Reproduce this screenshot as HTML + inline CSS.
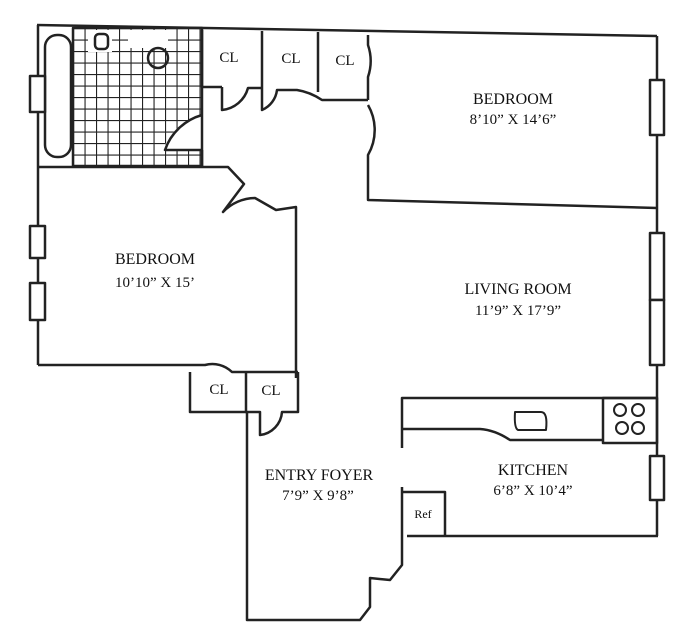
<!DOCTYPE html>
<html><head><style>
html,body{margin:0;padding:0;background:#fff;}
svg{display:block;}
text{font-family:"Liberation Serif",serif;fill:#111;text-anchor:middle;font-size:16px;}
.s{font-size:15px;}
</style></head><body>
<svg width="690" height="637" viewBox="0 0 690 637" xmlns="http://www.w3.org/2000/svg">
<defs>
<pattern id="tile" x="73" y="28" width="11.5" height="11.5" patternUnits="userSpaceOnUse">
<path d="M0 0H11.5M0 0V11.5" stroke="#222" stroke-width="2.2" fill="none"/>
</pattern>
</defs>
<g fill="none" stroke="#222" stroke-width="2.5" stroke-linejoin="round">
<rect x="73" y="28" width="129" height="138" fill="url(#tile)" stroke="none"/>
<rect x="88" y="30" width="24" height="22" fill="#fff" stroke="none"/>
<rect x="128" y="30" width="40" height="18" fill="#fff" stroke="none"/>
<path d="M202 115 A55 55 0 0 0 163 150 L202 150 Z" fill="#fff" stroke="none"/>
<path d="M37 25 L657 36"/>
<path d="M38 25 V365"/>
<path d="M657 36 V536"/>
<rect x="45" y="35" width="26" height="122" rx="12"/>
<rect x="73" y="28" width="129" height="138"/>
<rect x="95" y="34" width="13" height="15" rx="4"/>
<circle cx="158" cy="58" r="10"/>
<path d="M38 167 H202"/>
<path d="M202 115 A55 55 0 0 0 165 150 L202 150"/>
<path d="M202 150 V167"/>
<path d="M202 30 V87 H222"/>
<path d="M222 87 V110 A30 30 0 0 0 248 88 H262"/>
<path d="M262 31 V88 V110 A25 25 0 0 0 277 90 H297 Q310 92 322 100 H368"/>
<path d="M318 32 V92"/>
<path d="M368 35 V45 A50 50 0 0 1 368 77 V100"/>
<path d="M368 105 A50 50 0 0 1 368 155 V200 L657 208"/>
<path d="M202 167 H228 L244 184 L223 212 A45 45 0 0 1 255 198 L276 210 L296 207 V378"/>
<rect x="30" y="76" width="15" height="36" fill="#fff"/>
<rect x="30" y="226" width="15" height="32" fill="#fff"/>
<rect x="30" y="283" width="15" height="37" fill="#fff"/>
<path d="M38 365 H205 A28 28 0 0 1 232 372 V372 H298"/>
<path d="M190 372 V412 H247"/>
<path d="M246 372 V412 L260 412 V435 A25 25 0 0 0 282 412 H298 V372"/>
<path d="M247 412 V620 H360 L370 607 V578 L390 580 L402 565 V487"/>
<path d="M402 448 V398 H657"/>
<path d="M402 429 H480 Q495 430 510 440 H603"/>
<rect x="603" y="398" width="54" height="45"/>
<path d="M515 412 H541 Q548 412 546 430 H518 Q514 428 515 412 Z" stroke-width="2"/>
<circle cx="620" cy="410" r="6" stroke-width="2"/><circle cx="638" cy="410" r="6" stroke-width="2"/>
<circle cx="622" cy="428" r="6" stroke-width="2"/><circle cx="638" cy="428" r="6" stroke-width="2"/>
<path d="M407 536 H658"/>
<path d="M402 492 H445 V536"/>
<rect x="650" y="80" width="14" height="55" fill="#fff"/>
<rect x="650" y="233" width="14" height="67" fill="#fff"/>
<rect x="650" y="300" width="14" height="65" fill="#fff"/>
<rect x="650" y="456" width="14" height="44" fill="#fff"/>
</g>
<text x="229" y="62" class="s">CL</text>
<text x="291" y="63" class="s">CL</text>
<text x="345" y="65" class="s">CL</text>
<text x="513" y="104">BEDROOM</text>
<text x="513" y="124" class="s">8’10” X 14’6”</text>
<text x="155" y="264">BEDROOM</text>
<text x="155" y="287" class="s">10’10” X 15’</text>
<text x="518" y="294">LIVING ROOM</text>
<text x="518" y="315" class="s">11’9” X 17’9”</text>
<text x="219" y="394" class="s">CL</text>
<text x="271" y="395" class="s">CL</text>
<text x="319" y="480">ENTRY FOYER</text>
<text x="318" y="500" class="s">7’9” X 9’8”</text>
<text x="533" y="475">KITCHEN</text>
<text x="533" y="495" class="s">6’8” X 10’4”</text>
<text x="423" y="518" style="font-size:12px">Ref</text>
</svg>
</body></html>
